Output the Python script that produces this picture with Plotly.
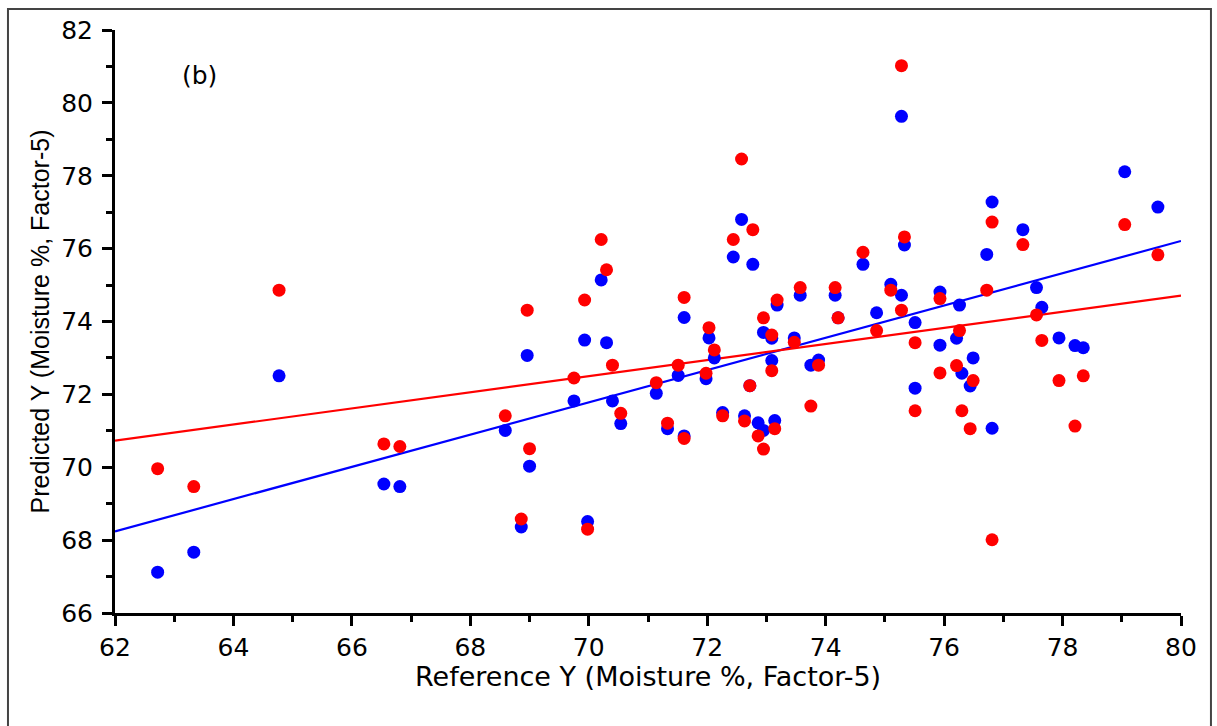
import plotly.graph_objects as go

# Reference values (x) with predicted values for the two models
ref_x = [62.72, 63.33, 64.77, 66.54, 66.81, 68.59, 68.86, 68.96, 69.00, 69.75,
         69.93, 69.98, 70.21, 70.30, 70.40, 70.54, 71.14, 71.33, 71.51, 71.61,
         71.61, 71.98, 72.03, 72.12, 72.26, 72.44, 72.58, 72.63, 72.72, 72.77,
         72.86, 72.95, 72.95, 73.09, 73.09, 73.14, 73.18, 73.47, 73.57, 73.75,
         73.88, 74.16, 74.21, 74.63, 74.86, 75.10, 75.28, 75.28, 75.33, 75.51,
         75.51, 75.93, 75.93, 76.21, 76.26, 76.30, 76.44, 76.49, 76.72, 76.81,
         76.81, 77.33, 77.56, 77.65, 77.94, 78.21, 78.35, 79.05, 79.61]

blue_y = [67.12, 67.67, 72.51, 69.54, 69.47, 71.01, 68.36, 73.07, 70.03, 71.82,
          73.49, 68.51, 75.14, 73.42, 71.82, 71.20, 72.03, 71.06, 72.52, 74.11,
          70.86, 72.43, 73.55, 73.00, 71.50, 75.77, 76.80, 71.41, 72.24, 75.57,
          71.22, 73.70, 71.01, 73.54, 72.93, 71.28, 74.45, 73.55, 74.72, 72.80,
          72.94, 74.72, 74.10, 75.57, 74.24, 75.02, 79.63, 74.72, 76.10, 73.97,
          72.17, 74.81, 73.35, 73.54, 74.45, 72.58, 72.23, 73.00, 75.84, 77.28,
          71.07, 76.52, 74.93, 74.39, 73.55, 73.34, 73.28, 78.11, 77.14]

red_y = [69.96, 69.47, 74.86, 70.64, 70.57, 71.41, 68.58, 74.31, 70.51, 72.45,
         74.59, 68.30, 76.25, 75.42, 72.80, 71.48, 72.32, 71.21, 72.80, 74.66,
         70.79, 72.58, 73.83, 73.22, 71.41, 76.25, 78.46, 71.27, 72.24, 76.52,
         70.86, 74.10, 70.50, 73.63, 72.65, 71.06, 74.59, 73.43, 74.93, 71.68,
         72.80, 74.93, 74.10, 75.90, 73.75, 74.86, 81.02, 74.31, 76.32, 73.42,
         71.55, 74.63, 72.59, 72.79, 73.75, 71.55, 71.06, 72.38, 74.86, 76.73,
         68.01, 76.11, 74.18, 73.48, 72.38, 71.13, 72.51, 76.66, 75.83]

# Fitted lines (end points)
fit_x = [62, 80]
blue_fit = [68.24, 76.21]
red_fit = [70.73, 74.71]

x_ticks = [62, 64, 66, 68, 70, 72, 74, 76, 78, 80]
y_ticks = [66, 68, 70, 72, 74, 76, 78, 80, 82]

BLUE = "#0000FF"
RED = "#FF0000"
TICK_FONT = dict(family="DejaVu Sans", size=25, color="black")

fig = go.Figure()
fig.add_trace(go.Scatter(x=fit_x, y=blue_fit, mode="lines",
                         line=dict(color=BLUE, width=2.2), showlegend=False))
fig.add_trace(go.Scatter(x=fit_x, y=red_fit, mode="lines",
                         line=dict(color=RED, width=2.2), showlegend=False))
fig.add_trace(go.Scatter(x=ref_x, y=blue_y, mode="markers",
                         marker=dict(color=BLUE, size=13, line=dict(width=0)),
                         showlegend=False))
fig.add_trace(go.Scatter(x=ref_x, y=red_y, mode="markers",
                         marker=dict(color=RED, size=13, line=dict(width=0)),
                         showlegend=False))

axis_common = dict(
    showgrid=False, zeroline=False, showline=True, linecolor="black",
    linewidth=3, ticks="outside", ticklen=10, tickwidth=2.5, tickcolor="black",
    tickfont=TICK_FONT, mirror=False,
)

fig.update_xaxes(range=[62, 80], tickvals=x_ticks, ticktext=[str(v) for v in x_ticks],
                 minor=dict(dtick=1, ticks="outside", ticklen=6, tickwidth=2.5,
                            tickcolor="black", showgrid=False),
                 **axis_common)
fig.update_yaxes(range=[66, 82], tickvals=y_ticks, ticktext=[str(v) for v in y_ticks],
                 minor=dict(dtick=1, ticks="outside", ticklen=6, tickwidth=2.5,
                            tickcolor="black", showgrid=False),
                 ticklabelstandoff=4,
                 **axis_common)

fig.add_annotation(text="Reference Y (Moisture %, Factor-5)", xref="paper", yref="paper",
                   x=0.5, y=-0.109, xanchor="center", yanchor="middle", showarrow=False,
                   font=dict(family="DejaVu Sans", size=27, color="black"))
fig.add_annotation(text="Predicted Y (Moisture %, Factor-5)", xref="paper", yref="paper",
                   x=-0.0704, y=0.5, xanchor="center", yanchor="middle", showarrow=False,
                   textangle=-90,
                   font=dict(family="Liberation Sans", size=25, color="black"))
fig.add_annotation(text="(b)", x=63.42, y=80.75, xanchor="center", yanchor="middle",
                   showarrow=False, font=dict(family="DejaVu Sans", size=25, color="black"))

# outer frame around the whole figure
fig.add_shape(type="rect", xref="paper", yref="paper",
              x0=-0.1004, x1=1.0281, y0=-0.22, y1=1.036,
              line=dict(color="#444444", width=2), fillcolor="rgba(0,0,0,0)", layer="below")

fig.update_layout(
    width=1217, height=726,
    margin=dict(l=115, r=36, t=30, b=113, pad=0),
    paper_bgcolor="white", plot_bgcolor="white",
    showlegend=False,
)

fig.write_html("out.html")
